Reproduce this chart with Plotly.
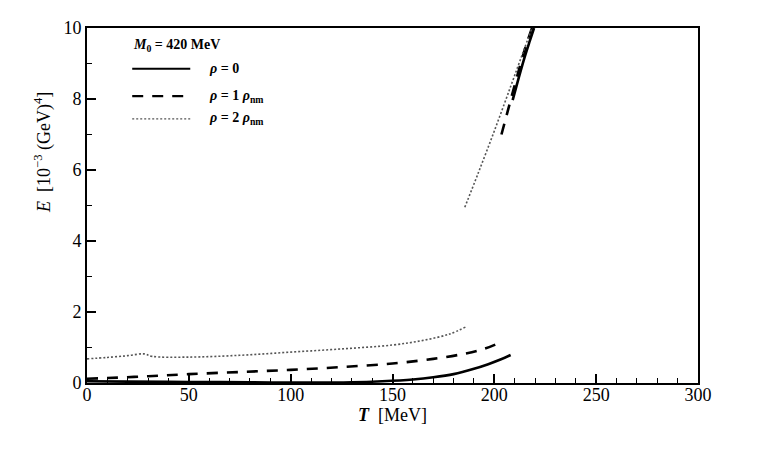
import plotly.graph_objects as go

# rho = 0 (solid)
T0_low = [0, 20, 50, 80, 110, 130, 145, 160, 170, 180, 190, 197, 203, 208]
E0_low = [0.05, 0.04, 0.03, 0.02, 0.01, 0.02, 0.05, 0.1, 0.16, 0.25, 0.4, 0.53, 0.66, 0.79]
T0_up = [209, 212, 215, 217.5, 219.5]
E0_up = [7.97, 8.6, 9.2, 9.65, 10.0]

# rho = 1 rho_nm (dashed)
T1_low = [0, 10, 30, 50, 75, 100, 125, 150, 170, 185, 195, 202]
E1_low = [0.12, 0.14, 0.19, 0.25, 0.31, 0.37, 0.45, 0.55, 0.68, 0.82, 0.96, 1.12]
T1_up = [203.5, 207, 211, 215, 218.5]
E1_up = [7.0, 7.75, 8.6, 9.4, 10.0]

# rho = 2 rho_nm (dotted)
T2_low = [0, 10, 20, 28, 32, 50, 75, 100, 125, 150, 165, 178, 186]
E2_low = [0.68, 0.72, 0.77, 0.82, 0.75, 0.73, 0.78, 0.87, 0.96, 1.07, 1.2, 1.38, 1.58]
T2_up = [185.5, 192, 200, 208, 214, 218.5]
E2_up = [4.95, 5.9, 7.1, 8.35, 9.3, 10.0]

x_ticks = [0, 50, 100, 150, 200, 250, 300]
y_ticks = [0, 2, 4, 6, 8, 10]

legend_title = "<b><i>M</i><sub>0</sub> = 420 MeV</b>"
legend_labels = ["<b><i>ρ</i> = 0</b>", "<b><i>ρ</i> = 1 <i>ρ</i><sub>nm</sub></b>",
                 "<b><i>ρ</i> = 2 <i>ρ</i><sub>nm</sub></b>"]

fig = go.Figure()
styles = [dict(color="black", width=2.6, dash="solid"),
          dict(color="black", width=2.6, dash="11px,9px"),
          dict(color="#555555", width=1.6, dash="2px,2px")]
series = [(T0_low, E0_low, T0_up, E0_up), (T1_low, E1_low, T1_up, E1_up),
          (T2_low, E2_low, T2_up, E2_up)]
for (tl, el, tu, eu), st in zip(series, styles):
    fig.add_trace(go.Scatter(x=tl, y=el, mode="lines", line=dict(shape="spline", **st),
                             showlegend=False))
    fig.add_trace(go.Scatter(x=tu, y=eu, mode="lines", line=dict(shape="spline", **st),
                             showlegend=False))

serif = "Liberation Serif"

# legend drawn in paper coordinates
fig.add_annotation(xref="paper", yref="paper", x=0.072, y=0.952, xanchor="left", yanchor="middle",
                   text=legend_title, showarrow=False, font=dict(family=serif, size=14, color="black"))
ys = [0.885, 0.808, 0.744]
for yy, st, lab in zip(ys, styles, legend_labels):
    fig.add_shape(type="line", xref="paper", yref="paper", x0=0.074, x1=0.169, y0=yy, y1=yy,
                  line=dict(color=st["color"], width=st["width"] * 0.8, dash=st["dash"]))
    fig.add_annotation(xref="paper", yref="paper", x=0.196, y=yy, xanchor="left", yanchor="middle",
                       text=lab, showarrow=False, font=dict(family=serif, size=14, color="black"))

# y-axis title (placed as in the reference, above the axis middle)
fig.add_annotation(xref="paper", yref="paper", x=-0.072, y=0.648, xanchor="center", yanchor="middle",
                   textangle=-90, showarrow=False,
                   text="<i>E</i>  [10<sup>−3</sup> (GeV)<sup>4</sup>]",
                   font=dict(family=serif, size=18, color="black"))

fig.update_layout(
    width=778, height=454,
    margin=dict(l=87, r=80, t=28, b=71),
    paper_bgcolor="white", plot_bgcolor="white",
    font=dict(family=serif, color="black"),
)
fig.update_xaxes(range=[0, 300], tickvals=x_ticks, ticks="inside", ticklen=9, tickwidth=1.5,
                 tickcolor="black", showline=True, linecolor="black", linewidth=2, mirror=True,
                 showgrid=False, zeroline=False, ticklabelstandoff=-6,
                 minor=dict(dtick=10, ticks="inside", ticklen=5, tickcolor="black", tickwidth=1.2),
                 tickfont=dict(family=serif, size=18, color="black"),
                 title=dict(text="<b><i>T</i></b>  [MeV]", font=dict(family=serif, size=18), standoff=0))
fig.update_yaxes(range=[0, 10], tickvals=y_ticks, ticks="inside", ticklen=9, tickwidth=1.5,
                 tickcolor="black", showline=True, linecolor="black", linewidth=2, mirror=True,
                 showgrid=False, zeroline=False,
                 minor=dict(dtick=1, ticks="inside", ticklen=5, tickcolor="black", tickwidth=1.2),
                 tickfont=dict(family=serif, size=18, color="black"))

fig.write_html("out.html")
